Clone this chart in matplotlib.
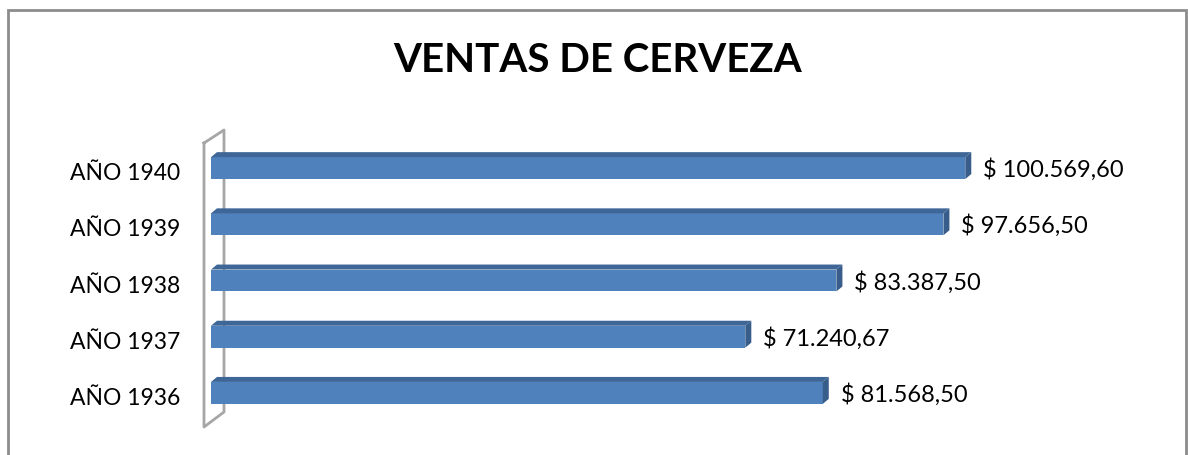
import matplotlib
matplotlib.use('Agg')
import matplotlib.pyplot as plt
from matplotlib.patches import Polygon, Rectangle
from matplotlib.lines import Line2D

# data
years = ['AÑO 1936', 'AÑO 1937', 'AÑO 1938', 'AÑO 1939', 'AÑO 1940']
sales = [81568.50, 71240.67, 83387.50, 97656.50, 100569.60]
value_labels = ['$ 81.568,50', '$ 71.240,67', '$ 83.387,50', '$ 97.656,50', '$ 100.569,60']
title = 'VENTAS DE CERVEZA'

front = '#4F81BD'
top_c = '#3E6797'
side_c = '#385D8A'
wall = '#A6A6A6'

W, H = 1188, 455
plt.rcParams['font.family'] = ['Lato', 'DejaVu Sans']
fig = plt.figure(figsize=(W / 100, H / 100), dpi=100)

# outer chart border
fig.patches.append(Rectangle((8 / W, -0.1), 1178 / W, (H - 10) / H + 0.1,
                             transform=fig.transFigure, fill=False,
                             edgecolor='#8C8C8C', linewidth=2))

fig.text(598 / W, 1 - 60 / H, title, ha='center', va='center',
         fontsize=29, fontweight='bold', color='black')

# axes: x 0 at px 211, 7.5 px per 1000 ; y centres 56.25 px apart
ax_l, ax_w = 211, 900
ax_top, ax_h = 140, 281
ax = fig.add_axes([ax_l / W, 1 - (ax_top + ax_h) / H, ax_w / W, ax_h / H])
ax.set_xlim(0, 120000)
ax.set_ylim(-0.5, 4.5)
ax.axis('off')

bh = 0.39
px_x = 120000 / ax_w
px_y = 5 / ax_h
ddx, ddy = 6 * px_x, 5 * px_y

ypos = list(range(len(years)))
ax.barh(ypos, sales, height=bh, color=front, zorder=3)
for y, v, lab in zip(ypos, sales, value_labels):
    t = y + bh / 2
    b = y - bh / 2
    ax.add_patch(Polygon([(0, t), (v, t), (v + ddx, t + ddy), (ddx, t + ddy)],
                         closed=True, facecolor=top_c, edgecolor='none', zorder=3))
    ax.add_patch(Polygon([(v, b), (v, t), (v + ddx, t + ddy), (v + ddx, b + ddy)],
                         closed=True, facecolor=side_c, edgecolor='none', zorder=3))
    ax.text(v + 18 * px_x, y - 0.03, lab, ha='left', va='center', fontsize=17, color='black')
    ax.text(-31 * px_x, y - 0.1, years[y], ha='right', va='center', fontsize=16.5, color='black')

# back wall outline (3D), drawn behind the bars
fx = lambda p: p / W
fy = lambda p: 1 - p / H
fig.add_artist(Line2D([fx(204), fx(204), fx(224), fx(224), fx(204)],
                      [fy(143), fy(427), fy(412), fy(130), fy(143)],
                      color=wall, linewidth=2, zorder=-1))

fig.savefig('out.png', dpi=100, facecolor='white')
